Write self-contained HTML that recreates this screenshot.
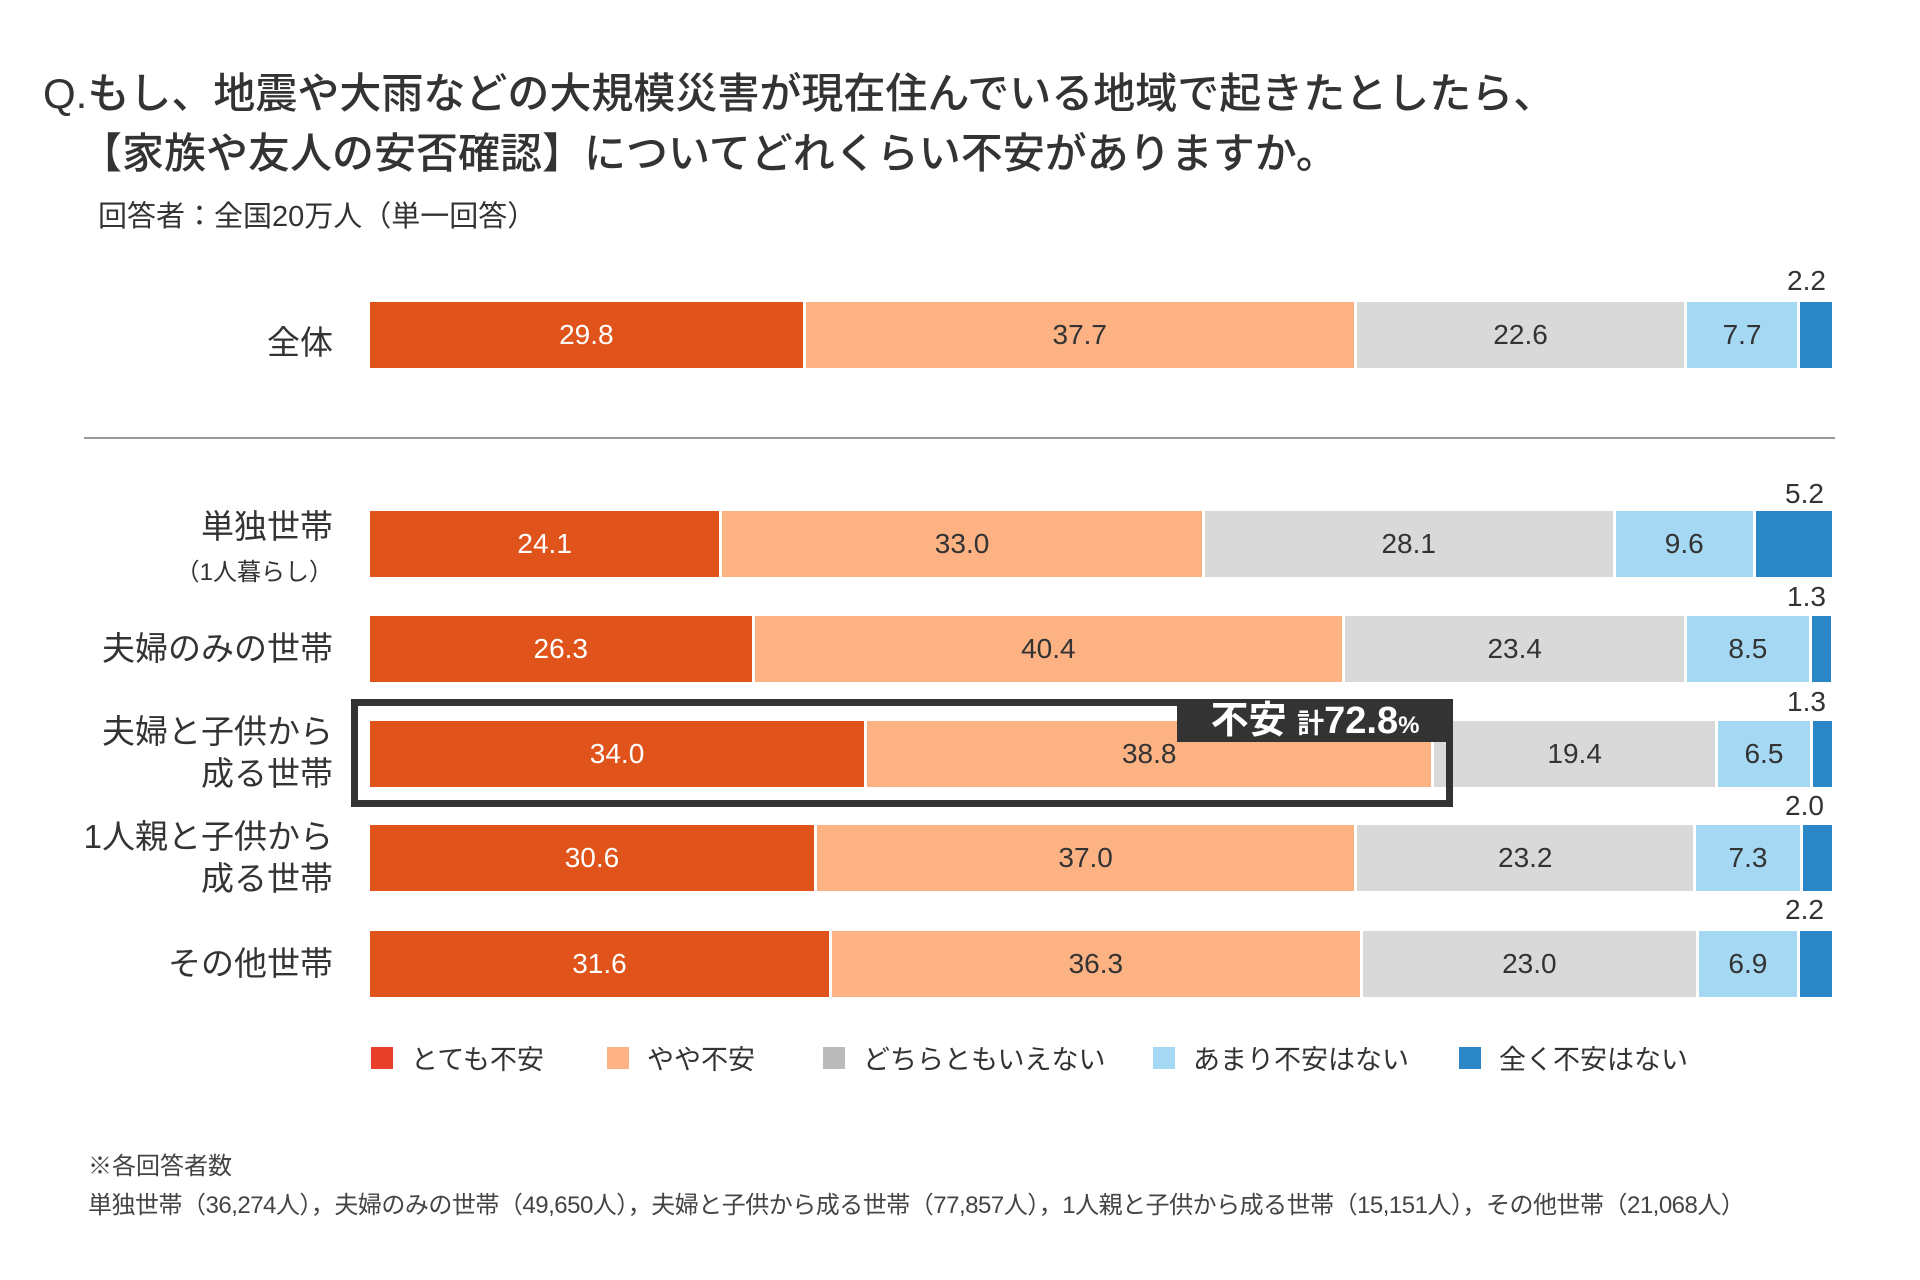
<!DOCTYPE html>
<html><head><meta charset="utf-8"><style>
body{margin:0;width:1920px;height:1280px;background:#fff;position:relative;overflow:hidden;font-family:"Liberation Sans","Noto Sans CJK JP",sans-serif;color:#333}
.a{position:absolute;white-space:nowrap}
.bar{position:absolute;left:370px;width:1462px;height:66px;display:flex}
.bar div{height:100%;box-sizing:border-box;border-right:3px solid #fff;display:flex;align-items:center;justify-content:center;font-size:28px;color:#333}
.bar div:last-child{border-right:none}
.c1{background:#E0531A;color:#fff!important}.c2{background:#FDB283}.c3{background:#D9D9D9}.c4{background:#A5D8F3}.c5{background:#2B87C8}
.lab{position:absolute;right:1587px;text-align:right;font-size:33px;line-height:42px;color:#333}
.sm{position:absolute;font-size:28px;color:#333}
.lg{position:absolute;top:1038px;font-size:27px;display:flex;align-items:center}
.lg i{display:inline-block;width:22px;height:22px;margin-right:18px}
</style></head><body>
<div class="a" style="left:43px;top:60px;font-size:42px;font-weight:500;color:#333">Q.もし、地震や大雨などの大規模災害が現在住んでいる地域で起きたとしたら、</div>
<div class="a" style="left:80px;top:120px;font-size:42px;font-weight:500;color:#333">【家族や友人の安否確認】についてどれくらい不安がありますか。</div>
<div class="a" style="left:98px;top:193px;font-size:29px;color:#333">回答者：全国20万人（単一回答）</div>

<div class="lab" style="top:322px">全体</div>
<div class="bar" style="top:302px"><div class="c1" style="width:29.8%">29.8</div><div class="c2" style="width:37.7%">37.7</div><div class="c3" style="width:22.6%">22.6</div><div class="c4" style="width:7.7%">7.7</div><div class="c5" style="width:2.2%"></div></div>
<div class="sm" style="left:1787px;top:265px">2.2</div>
<div class="a" style="left:84px;top:437px;width:1751px;height:2px;background:#999"></div>

<div class="lab" style="top:506px">単独世帯<br><span style="font-size:24px">（1人暮らし）</span></div>
<div class="bar" style="top:511px"><div class="c1" style="width:24.1%">24.1</div><div class="c2" style="width:33.0%">33.0</div><div class="c3" style="width:28.1%">28.1</div><div class="c4" style="width:9.6%">9.6</div><div class="c5" style="width:5.2%"></div></div>
<div class="sm" style="left:1785px;top:478px">5.2</div>

<div class="lab" style="top:628px">夫婦のみの世帯</div>
<div class="bar" style="top:616px"><div class="c1" style="width:26.3%">26.3</div><div class="c2" style="width:40.4%">40.4</div><div class="c3" style="width:23.4%">23.4</div><div class="c4" style="width:8.5%">8.5</div><div class="c5" style="width:1.3%"></div></div>
<div class="sm" style="left:1787px;top:581px">1.3</div>

<div class="lab" style="top:711px">夫婦と子供から<br>成る世帯</div>
<div class="bar" style="top:721px"><div class="c1" style="width:34.0%">34.0</div><div class="c2" style="width:38.8%">38.8</div><div class="c3" style="width:19.4%">19.4</div><div class="c4" style="width:6.5%">6.5</div><div class="c5" style="width:1.3%"></div></div>
<div class="sm" style="left:1787px;top:686px">1.3</div>
<div class="a" style="left:351px;top:699px;width:1102px;height:108px;border:7px solid #333;box-sizing:border-box"></div>
<div class="a" style="left:1177px;top:700px;width:276px;height:42px;background:#333;color:#fff;font-weight:bold;font-size:38px;line-height:42px;text-align:center">不安 <span style="font-size:27px">計</span>72.8<span style="font-size:24px">%</span></div>

<div class="lab" style="top:816px">1人親と子供から<br>成る世帯</div>
<div class="bar" style="top:825px"><div class="c1" style="width:30.6%">30.6</div><div class="c2" style="width:37.0%">37.0</div><div class="c3" style="width:23.2%">23.2</div><div class="c4" style="width:7.3%">7.3</div><div class="c5" style="width:2.0%"></div></div>
<div class="sm" style="left:1785px;top:790px">2.0</div>

<div class="lab" style="top:943px">その他世帯</div>
<div class="bar" style="top:931px"><div class="c1" style="width:31.6%">31.6</div><div class="c2" style="width:36.3%">36.3</div><div class="c3" style="width:23.0%">23.0</div><div class="c4" style="width:6.9%">6.9</div><div class="c5" style="width:2.2%"></div></div>
<div class="sm" style="left:1785px;top:894px">2.2</div>

<div class="lg" style="left:371px"><i style="background:#E8402A"></i>とても不安</div>
<div class="lg" style="left:607px"><i style="background:#FDB283"></i>やや不安</div>
<div class="lg" style="left:823px"><i style="background:#BBBBBB"></i>どちらともいえない</div>
<div class="lg" style="left:1153px"><i style="background:#A5D8F3"></i>あまり不安はない</div>
<div class="lg" style="left:1459px"><i style="background:#2B87C8"></i>全く不安はない</div>

<div class="a" style="left:88px;top:1146px;font-size:24px;color:#444">※各回答者数</div>
<div class="a" style="left:88px;top:1185px;font-size:24px;color:#444;letter-spacing:-0.5px">単独世帯（36,274人），夫婦のみの世帯（49,650人），夫婦と子供から成る世帯（77,857人），1人親と子供から成る世帯（15,151人），その他世帯（21,068人）</div>
</body></html>
